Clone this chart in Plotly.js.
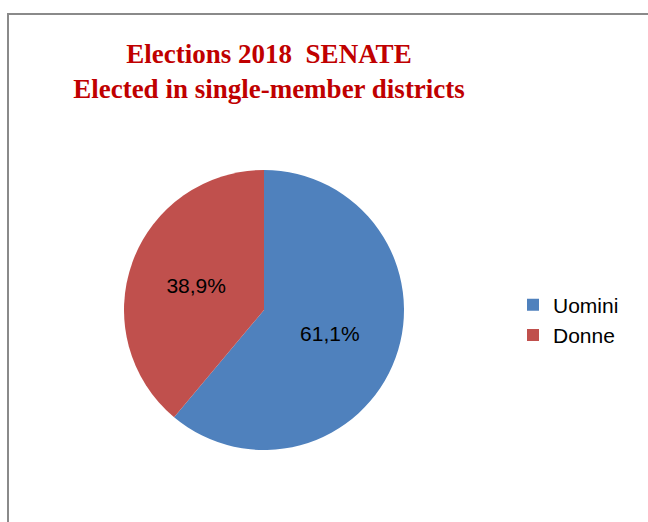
<!DOCTYPE html>
<html>
<head>
<meta charset="utf-8">
<script src="https://cdn.plot.ly/plotly-3.0.1.min.js"></script>
<style>
html,body{margin:0;padding:0;background:#fff;overflow:hidden;width:648px;height:522px;}
#chart{width:648px;height:522px;display:block;position:absolute;left:0;top:0;}
#frame{position:absolute;left:7px;top:13px;width:641px;height:509px;border-top:2px solid #8a8a8a;border-left:2px solid #8a8a8a;box-sizing:border-box;pointer-events:none;}
</style>
</head>
<body>
<div id="chart"></div>
<div id="frame"></div>
<script>
const labels = ["Uomini", "Donne"];
const values = [61.1, 38.9];
const colors = ["#4F81BD", "#C0504D"];

const W = 648, H = 522;
const trace = {
  type: "pie",
  labels: labels,
  values: values,
  sort: false,
  direction: "clockwise",
  rotation: 0,
  marker: {colors: colors, line: {width: 0}},
  texttemplate: "%{percent:.1%}",
  textposition: "inside",
  insidetextorientation: "horizontal",
  textfont: {family: "Liberation Sans, Arial, sans-serif", size: 21, color: "#000"},
  hoverinfo: "label+percent",
  domain: {x: [(264-140)/W, (264+140)/W], y: [(212-140)/H, (212+140)/H]}
};

const layout = {
  width: W, height: H,
  margin: {l: 0, r: 0, t: 0, b: 0},
  paper_bgcolor: "rgba(0,0,0,0)",
  separators: ",.",
  title: {
    text: "<b>Elections 2018  SENATE<br>Elected in single-member districts</b>",
    font: {family: "Liberation Serif, Times New Roman, serif", size: 27, color: "#C00000"},
    xref: "paper", x: 269/W, xanchor: "center",
    yref: "paper", y: 1 - 63/H, yanchor: "top"
  },
  showlegend: true,
  legend: {
    x: 513/W, xanchor: "left", y: 1 - 320/H, yanchor: "middle",
    font: {family: "Liberation Sans, Arial, sans-serif", size: 21, color: "#000"},
    itemwidth: 30, bgcolor: "rgba(0,0,0,0)"
  }
};

Plotly.newPlot("chart", [trace], layout, {displayModeBar: false, staticPlot: true});
</script>
</body>
</html>
